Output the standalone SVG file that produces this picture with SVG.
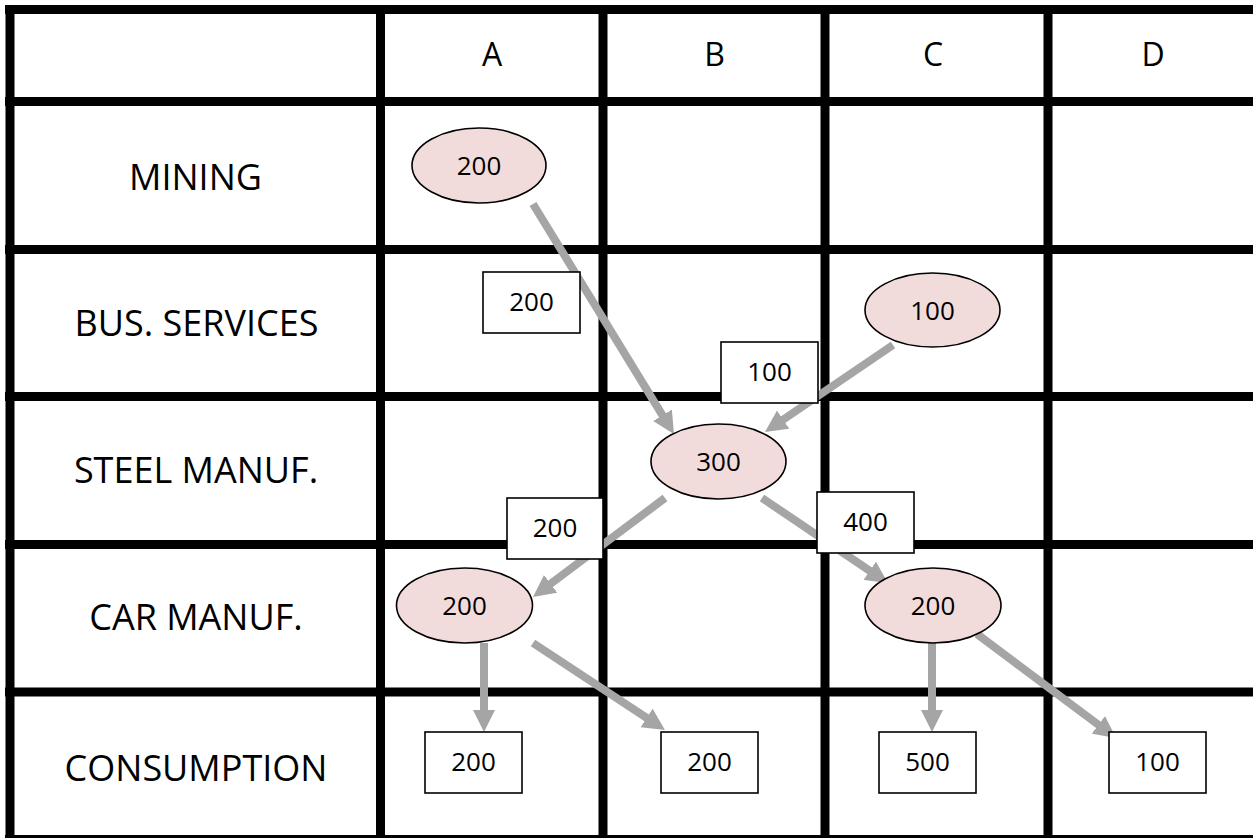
<svg xmlns="http://www.w3.org/2000/svg" width="1253" height="838" viewBox="0 0 1253 838">
  <style>
    .grid { stroke: #000; stroke-width: 9; fill: none; }
    .hdr { font-family: "Open Sans", "Liberation Sans", sans-serif; font-size: 32px; fill: #000; text-anchor: middle; }
    .row { font-family: "Open Sans", "Liberation Sans", sans-serif; font-size: 36px; fill: #000; text-anchor: middle; }
    .num { font-family: "Open Sans", "Liberation Sans", sans-serif; font-size: 26px; fill: #000; text-anchor: middle; }
    .flow { stroke: #A5A5A5; stroke-width: 8; fill: none; marker-end: url(#head); }
    .sector ellipse { fill: #F2DCDB; stroke: #000; stroke-width: 1.6; }
    .amount rect { fill: #fff; stroke: #000; stroke-width: 1.6; }
  </style>
  <defs>
    <marker id="head" markerUnits="userSpaceOnUse" viewBox="0 0 22 22" refX="6" refY="11" markerWidth="22" markerHeight="22" orient="auto">
      <path d="M0,0 L22,11 L0,22 z" fill="#A5A5A5"/>
    </marker>
  </defs>

  <rect width="1253" height="838" fill="#fff"/>

  <!-- table grid -->
  <g id="grid" class="grid">
    <line x1="5" y1="9.5" x2="1253" y2="9.5"/>
    <line x1="5" y1="101.5" x2="1253" y2="101.5"/>
    <line x1="5" y1="249.5" x2="1253" y2="249.5"/>
    <line x1="5" y1="396.5" x2="1253" y2="396.5"/>
    <line x1="5" y1="544.5" x2="1253" y2="544.5"/>
    <line x1="5" y1="692" x2="1253" y2="692"/>
    <line x1="5" y1="839.5" x2="1253" y2="839.5"/>
    <line x1="10" y1="5" x2="10" y2="838"/>
    <line x1="380.5" y1="5" x2="380.5" y2="838"/>
    <line x1="603" y1="5" x2="603" y2="838"/>
    <line x1="825" y1="5" x2="825" y2="838"/>
    <line x1="1048" y1="5" x2="1048" y2="838"/>
  </g>

  <!-- column headers -->
  <g id="headers">
    <text class="hdr" x="492" y="66">A</text>
    <text class="hdr" x="714.5" y="66">B</text>
    <text class="hdr" x="933" y="66">C</text>
    <text class="hdr" x="1153" y="66">D</text>
  </g>

  <!-- row labels -->
  <g id="rows">
    <text class="row" x="195.5" y="190">MINING</text>
    <text class="row" x="196.5" y="336">BUS. SERVICES</text>
    <text class="row" x="196" y="483">STEEL MANUF.</text>
    <text class="row" x="196" y="630">CAR MANUF.</text>
    <text class="row" x="196" y="781">CONSUMPTION</text>
  </g>

  <!-- flows between sectors -->
  <g id="connectors">
    <line class="flow" x1="533" y1="204" x2="665.6" y2="420.4"/>
    <line class="flow" x1="893" y1="345" x2="778.2" y2="423"/>
    <line class="flow" x1="665" y1="498" x2="545.8" y2="587.4"/>
    <line class="flow" x1="762" y1="498" x2="874.7" y2="574.1"/>
    <line class="flow" x1="484" y1="643" x2="484" y2="716"/>
    <line class="flow" x1="533" y1="643" x2="651.6" y2="721.2"/>
    <line class="flow" x1="932" y1="643" x2="932" y2="716"/>
    <line class="flow" x1="977" y1="634" x2="1103.2" y2="728.4"/>
  </g>

  <!-- sector output ellipses -->
  <g id="mining-a" class="sector">
    <ellipse cx="479" cy="165.5" rx="67" ry="37.5"/>
    <text class="num" x="479" y="175">200</text>
  </g>
  <g id="bus-c" class="sector">
    <ellipse cx="932.5" cy="310" rx="67.5" ry="37"/>
    <text class="num" x="932.5" y="319.5">100</text>
  </g>
  <g id="steel-b" class="sector">
    <ellipse cx="718.5" cy="461.5" rx="67.5" ry="37.5"/>
    <text class="num" x="718.5" y="471">300</text>
  </g>
  <g id="car-a" class="sector">
    <ellipse cx="464.5" cy="605.5" rx="68" ry="37.5"/>
    <text class="num" x="464.5" y="615">200</text>
  </g>
  <g id="car-c" class="sector">
    <ellipse cx="933" cy="605.5" rx="68" ry="37.5"/>
    <text class="num" x="933" y="615">200</text>
  </g>

  <!-- flow amount boxes -->
  <g id="amt-mining-steel" class="amount">
    <rect x="483" y="272" width="97" height="61"/>
    <text class="num" x="531.5" y="311">200</text>
  </g>
  <g id="amt-bus-steel" class="amount">
    <rect x="721" y="342" width="97" height="61"/>
    <text class="num" x="769.5" y="381">100</text>
  </g>
  <g id="amt-steel-car-c" class="amount">
    <rect x="817" y="492" width="97" height="61"/>
    <text class="num" x="865.5" y="531">400</text>
  </g>
  <g id="amt-steel-car-a" class="amount">
    <rect x="507" y="498" width="96" height="61"/>
    <text class="num" x="555" y="537">200</text>
  </g>
  <g id="cons-a" class="amount">
    <rect x="425" y="732" width="97" height="61"/>
    <text class="num" x="473.5" y="771">200</text>
  </g>
  <g id="cons-b" class="amount">
    <rect x="661" y="732" width="97" height="61"/>
    <text class="num" x="709.5" y="771">200</text>
  </g>
  <g id="cons-c" class="amount">
    <rect x="879" y="732" width="97" height="61"/>
    <text class="num" x="927.5" y="771">500</text>
  </g>
  <g id="cons-d" class="amount">
    <rect x="1109" y="732" width="97" height="61"/>
    <text class="num" x="1157.5" y="771">100</text>
  </g>
</svg>
